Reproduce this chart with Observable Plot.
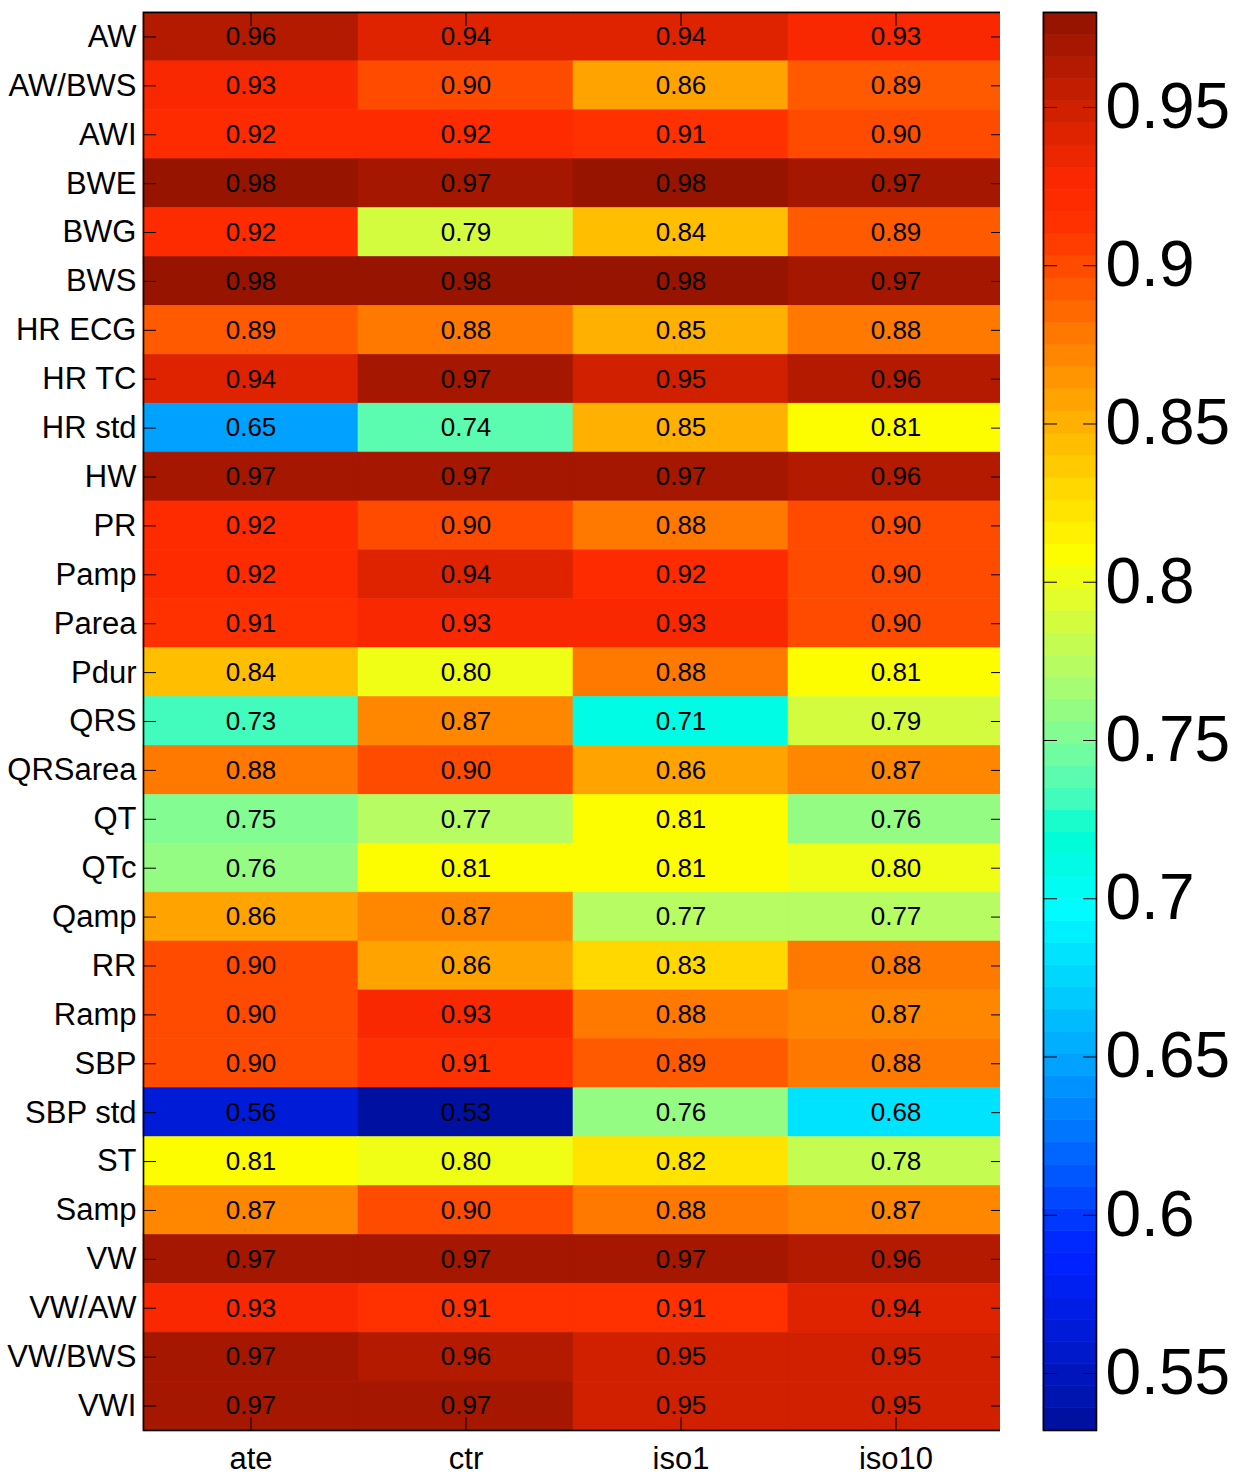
<!DOCTYPE html>
<html>
<head>
<meta charset="utf-8">
<script src="https://cdn.jsdelivr.net/npm/d3@7"></script>
<script src="https://cdn.jsdelivr.net/npm/@observablehq/plot@0.6"></script>
<style>
  html, body { margin: 0; padding: 0; background: white; }
  #wrap { position: relative; width: 1240px; height: 1477px; overflow: hidden; background: white; }
  #main { position: absolute; left: 0; top: 0; }
  #cbar { position: absolute; left: 1000px; top: 0; }
</style>
</head>
<body>
<div id="wrap"><div id="main"></div><div id="cbar"></div></div>
<script>
// ---- data ----
const columns = ["ate", "ctr", "iso1", "iso10"];
const rows = ["AW", "AW/BWS", "AWI", "BWE", "BWG", "BWS", "HR ECG", "HR TC", "HR std", "HW",
  "PR", "Pamp", "Parea", "Pdur", "QRS", "QRSarea", "QT", "QTc", "Qamp", "RR", "Ramp", "SBP",
  "SBP std", "ST", "Samp", "VW", "VW/AW", "VW/BWS", "VWI"];
const ate   = [0.96,0.93,0.92,0.98,0.92,0.98,0.89,0.94,0.65,0.97,0.92,0.92,0.91,0.84,0.73,0.88,0.75,0.76,0.86,0.90,0.90,0.90,0.56,0.81,0.87,0.97,0.93,0.97,0.97];
const ctr   = [0.94,0.90,0.92,0.97,0.79,0.98,0.88,0.97,0.74,0.97,0.90,0.94,0.93,0.80,0.87,0.90,0.77,0.81,0.87,0.86,0.93,0.91,0.53,0.80,0.90,0.97,0.91,0.96,0.97];
const iso1  = [0.94,0.86,0.91,0.98,0.84,0.98,0.85,0.95,0.85,0.97,0.88,0.92,0.93,0.88,0.71,0.86,0.81,0.81,0.77,0.83,0.88,0.89,0.76,0.82,0.88,0.97,0.91,0.95,0.95];
const iso10 = [0.93,0.89,0.90,0.97,0.89,0.97,0.88,0.96,0.81,0.96,0.90,0.90,0.90,0.81,0.79,0.87,0.76,0.80,0.77,0.88,0.87,0.88,0.68,0.78,0.87,0.96,0.94,0.95,0.95];
const colorbarTicks = [0.55, 0.6, 0.65, 0.7, 0.75, 0.8, 0.85, 0.9, 0.95];
const colorLimits = [0.532, 0.980];

const series = {ate, ctr, iso1, iso10};
const table = [];
rows.forEach((r, i) => columns.forEach(c => table.push({row: r, col: c, value: series[c][i]})));

// ---- MATLAB jet(64) colormap, shown through a Generic RGB -> sRGB conversion ----
function jet(n) {
  const m = Math.ceil(n / 4);
  const u = [];
  for (let i = 1; i <= m; i++) u.push(i / m);
  for (let i = 0; i < m - 1; i++) u.push(1);
  for (let i = m; i >= 1; i--) u.push(i / m);
  const g0 = Math.ceil(m / 2) - (n % 4 === 1 ? 1 : 0);
  const J = Array.from({length: n}, () => [0, 0, 0]);
  u.forEach((v, k) => {
    const g = g0 + k + 1, r = g + m, b = g - m;
    if (r <= n) J[r - 1][0] = v;
    if (g <= n) J[g - 1][1] = v;
    if (b >= 1) J[b - 1][2] = v;
  });
  return J;
}
const M = [[1.06872, -0.078598, 0], [0.024111, 0.960066, 0.01582], [0, 0, 1]];
function toSrgb(c) {
  const lin = c.map(v => Math.pow(v, 1.8));
  const out = M.map(row => row[0] * lin[0] + row[1] * lin[1] + row[2] * lin[2]);
  return "rgb(" + out.map(v => {
    v = Math.max(0, Math.min(1, v));
    const e = v <= 0.0031308 ? 12.92 * v : 1.055 * Math.pow(v, 1 / 2.4) - 0.055;
    return Math.round(e * 255);
  }).join(",") + ")";
}
const N = 64;
const palette = jet(N).map(toSrgb);
const step = (colorLimits[1] - colorLimits[0]) / N;
const thresholds = d3.range(1, N).map(i => colorLimits[0] + i * step);
const colorScale = {type: "threshold", domain: thresholds, range: palette};
const levels = d3.range(N).map(i => ({lo: colorLimits[0] + i * step, hi: colorLimits[0] + (i + 1) * step, mid: colorLimits[0] + (i + 0.5) * step}));

const font = "'Liberation Sans', Helvetica, Arial, sans-serif";

const main = Plot.plot({
  width: 1030,
  height: 1477,
  marginLeft: 143,
  marginRight: 27,
  marginTop: 12,
  marginBottom: 47,
  style: {fontFamily: font, background: "white", color: "black", overflow: "visible"},
  x: {type: "band", domain: columns, padding: 0, round: false, label: null},
  y: {type: "band", domain: rows, padding: 0, round: false, label: null},
  color: colorScale,
  marks: [
    Plot.cell(table, {x: "col", y: "row", fill: "value", stroke: "value", strokeWidth: 0.6, inset: 0}),
    Plot.text(table, {x: "col", y: "row", text: d => d3.format(".2f")(d.value), fill: "black", fontSize: 26}),
    Plot.axisY({anchor: "left", tickSize: -13, tickPadding: 20, fontSize: 31, label: null, stroke: "black"}),
    Plot.axisY({anchor: "right", tickSize: -13, tickFormat: () => "", label: null}),
    Plot.axisX({anchor: "top", tickSize: -13, tickFormat: () => "", label: null}),
    Plot.axisX({anchor: "bottom", tickSize: -13, tickPadding: 29, fontSize: 31, label: null}),
    Plot.frame({stroke: "black", strokeWidth: 1.6})
  ]
});
document.getElementById("main").appendChild(main);

const cbar = Plot.plot({
  width: 240,
  height: 1477,
  marginLeft: 43,
  marginRight: 144,
  marginTop: 12,
  marginBottom: 47,
  style: {fontFamily: font, background: "white", color: "black", overflow: "visible"},
  y: {domain: colorLimits, label: null},
  color: colorScale,
  marks: [
    Plot.rect(levels, {y1: "lo", y2: "hi", fill: "mid", stroke: "mid", strokeWidth: 0.6}),
    Plot.axisY({anchor: "right", ticks: colorbarTicks, tickSize: -14, tickPadding: 23, fontSize: 64,
      tickFormat: d => String(+d.toFixed(2)), label: null}),
    Plot.axisY({anchor: "left", ticks: colorbarTicks, tickSize: -14, tickFormat: () => "", label: null}),
    Plot.frame({stroke: "black", strokeWidth: 1.6})
  ]
});
document.getElementById("cbar").appendChild(cbar);
</script>
</body>
</html>
